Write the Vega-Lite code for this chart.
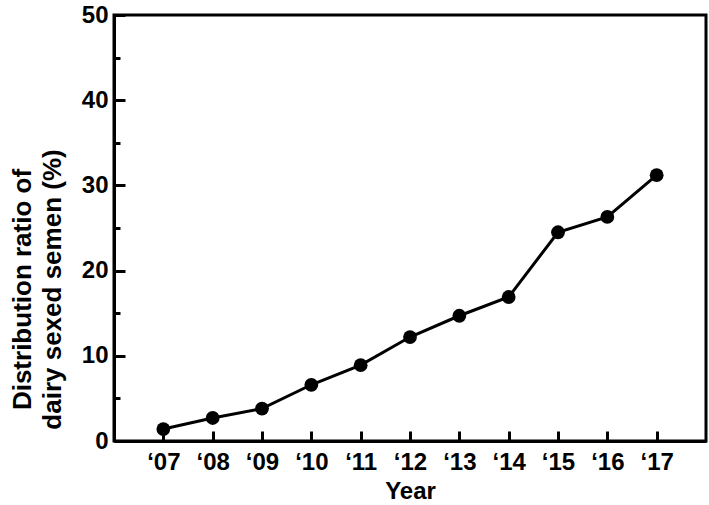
{
  "$schema": "https://vega.github.io/schema/vega-lite/v6.json",
  "width": 592,
  "height": 426,
  "autosize": {"type": "none"},
  "padding": {"left": 114, "top": 15, "right": 3, "bottom": 64},
  "background": "white",
  "config": {
    "view": {"stroke": "black", "strokeWidth": 3},
    "font": "Liberation Sans"
  },
  "data": {
    "values": [
      {"year": 2007, "ratio": 1.4},
      {"year": 2008, "ratio": 2.7},
      {"year": 2009, "ratio": 3.8},
      {"year": 2010, "ratio": 6.6},
      {"year": 2011, "ratio": 8.9},
      {"year": 2012, "ratio": 12.2},
      {"year": 2013, "ratio": 14.7},
      {"year": 2014, "ratio": 16.9},
      {"year": 2015, "ratio": 24.5},
      {"year": 2016, "ratio": 26.3},
      {"year": 2017, "ratio": 31.2}
    ]
  },
  "encoding": {
    "x": {
      "field": "year",
      "type": "quantitative",
      "scale": {"domain": [2006, 2018], "nice": false, "zero": false},
      "axis": {
        "title": "Year",
        "values": [2007, 2008, 2009, 2010, 2011, 2012, 2013, 2014, 2015, 2016, 2017],
        "labelExpr": "'\u2018' + slice(format(datum.value, 'd'), 2)",
        "grid": false,
        "domainColor": "black",
        "domainWidth": 3,
        "tickColor": "black",
        "tickWidth": 3,
        "tickSize": -10,
        "labelPadding": 19,
        "labelFont": "Liberation Sans",
        "labelFontSize": 24,
        "labelFontWeight": "bold",
        "labelColor": "black",
        "titleFont": "Liberation Sans",
        "titleFontSize": 24,
        "titleFontWeight": "bold",
        "titleColor": "black",
        "titlePadding": 5
      }
    },
    "y": {
      "field": "ratio",
      "type": "quantitative",
      "scale": {"domain": [0, 50], "nice": false},
      "axis": {
        "title": ["Distribution ratio of", "dairy sexed semen (%)"],
        "values": [0, 5, 10, 15, 20, 25, 30, 35, 40, 45, 50],
        "labelExpr": "datum.value % 10 === 0 ? datum.label : ''",
        "grid": false,
        "domainColor": "black",
        "domainWidth": 3,
        "tickColor": "black",
        "tickWidth": 3,
        "tickSize": {"condition": {"test": "datum.value % 10 === 0", "value": -11}, "value": -6},
        "labelPadding": 17,
        "labelFont": "Liberation Sans",
        "labelFontSize": 24,
        "labelFontWeight": "bold",
        "labelColor": "black",
        "titleFont": "Liberation Sans",
        "titleFontSize": 26,
        "titleFontWeight": "bold",
        "titleColor": "black",
        "titleLineHeight": 30,
        "titlePadding": 16,
        "titleY": 274
      }
    }
  },
  "layer": [
    {"mark": {"type": "line", "color": "black", "strokeWidth": 3}},
    {"mark": {"type": "point", "filled": true, "color": "black", "opacity": 1, "size": 190}}
  ]
}
